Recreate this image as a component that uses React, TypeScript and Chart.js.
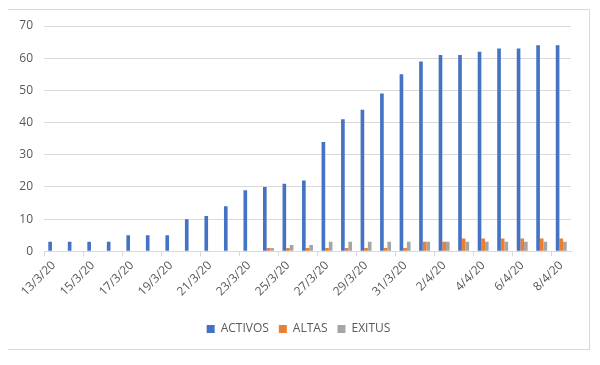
import React, { useEffect, useRef } from "react";
import { Chart, registerables } from "chart.js";

Chart.register(...registerables);

const categories = [
  "13/3/20", "14/3/20", "15/3/20", "16/3/20", "17/3/20", "18/3/20", "19/3/20",
  "20/3/20", "21/3/20", "22/3/20", "23/3/20", "24/3/20", "25/3/20", "26/3/20",
  "27/3/20", "28/3/20", "29/3/20", "30/3/20", "31/3/20", "1/4/20", "2/4/20",
  "3/4/20", "4/4/20", "5/4/20", "6/4/20", "7/4/20", "8/4/20",
];
const activos = [3, 3, 3, 3, 5, 5, 5, 10, 11, 14, 19, 20, 21, 22, 34, 41, 44, 49, 55, 59, 61, 61, 62, 63, 63, 64, 64];
const altas = [0, 0, 0, 0, 0, 0, 0, 0, 0, 0, 0, 1, 1, 1, 1, 1, 1, 1, 1, 3, 3, 4, 4, 4, 4, 4, 4];
const exitus = [0, 0, 0, 0, 0, 0, 0, 0, 0, 0, 0, 1, 2, 2, 3, 3, 3, 3, 3, 3, 3, 3, 3, 3, 3, 3, 3];
const yTicks = [0, 10, 20, 30, 40, 50, 60, 70];

const FONT = "'Open Sans', sans-serif";
const TEXT = "#595959";
const GRID = "#d9d9d9";

export default function App() {
  const ref = useRef<HTMLCanvasElement>(null);
  useEffect(() => {
    if (!ref.current) return;
    const chart = new Chart(ref.current, {
      type: "bar",
      data: {
        labels: categories,
        datasets: [
          { label: "ACTIVOS", data: activos, backgroundColor: "#4472C4" },
          { label: "ALTAS", data: altas, backgroundColor: "#ED7D31" },
          { label: "EXITUS", data: exitus, backgroundColor: "#A5A5A5" },
        ],
      },
      options: {
        animation: false,
        responsive: false,
        maintainAspectRatio: false,
        datasets: { bar: { categoryPercentage: 0.56, barPercentage: 1 } },
        layout: { padding: { top: 16, right: 0, bottom: 4, left: 0 } },
        plugins: {
          tooltip: { enabled: false },
          legend: {
            position: "bottom",
            labels: {
              boxWidth: 8,
              boxHeight: 8,
              padding: 10,
              color: TEXT,
              font: { family: FONT, size: 12 },
            },
          },
        },
        scales: {
          x: {
            grid: {
              offset: true,
              drawOnChartArea: false,
              drawTicks: true,
              tickLength: 5,
              color: (ctx: any) => (ctx.index % 2 === 0 ? GRID : "rgba(0,0,0,0)"),
            },
            border: { color: GRID },
            ticks: {
              autoSkip: false,
              minRotation: 45,
              maxRotation: 45,
              color: TEXT,
              font: { family: FONT, size: 12 },
              padding: 2,
              callback: (_v: any, i: number) => (i % 2 === 0 ? categories[i] : ""),
            },
            afterFit: (s: any) => {
              s.height = s.height + 12;
            },
          },
          y: {
            min: 0,
            max: 70,
            afterBuildTicks: (s: any) => {
              s.ticks = yTicks.map((v) => ({ value: v }));
            },
            afterFit: (s: any) => {
              s.width = 36;
              s.paddingTop = 0;
              s.paddingBottom = 0;
            },
            grid: { color: GRID, drawTicks: false },
            border: { display: false },
            ticks: {
              color: TEXT,
              padding: 11,
              font: { family: FONT, size: 12 },
            },
          },
          spacer: {
            type: "linear",
            position: "right",
            grid: { display: false },
            border: { display: false },
            ticks: { display: false },
            afterFit: (s: any) => {
              s.width = 18;
            },
          },
        },
      },
    });
    return () => chart.destroy();
  }, []);
  return (
    <div
      style={{
        width: 583,
        height: 341,
        marginTop: 1,
        marginLeft: -1,
        border: "1px solid #d9d9d9",
        boxSizing: "border-box",
      }}
    >
      <canvas ref={ref} width={581} height={339} style={{ display: "block" }} />
    </div>
  );
}
